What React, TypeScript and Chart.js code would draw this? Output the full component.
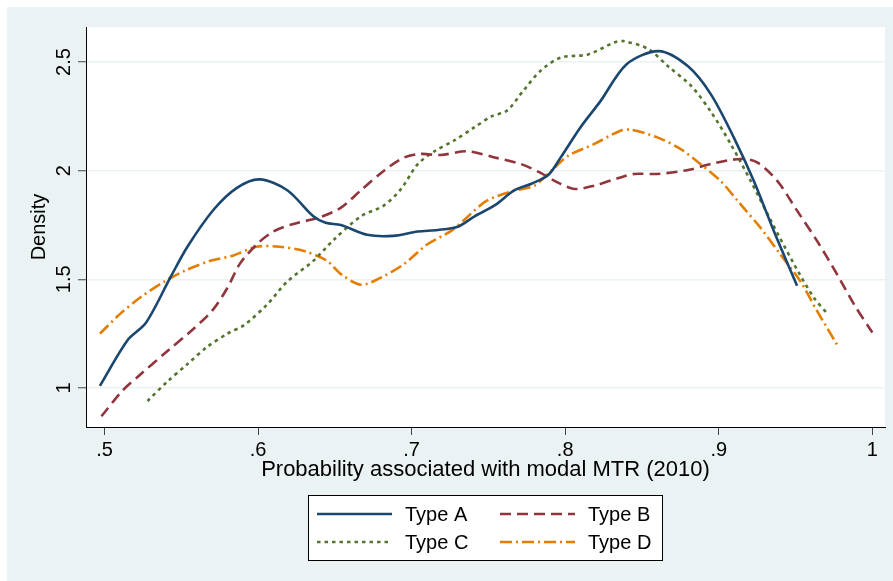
import React, { useEffect, useRef } from 'react';
import { Chart, registerables } from 'chart.js';

Chart.register(...registerables);

// ---- Data ----
const typeAX = [0.497, 0.515, 0.527, 0.543, 0.554, 0.571, 0.586, 0.601, 0.619, 0.636, 0.644, 0.654, 0.671, 0.688, 0.704, 0.717, 0.730, 0.741, 0.754, 0.767, 0.778, 0.789, 0.797, 0.810, 0.823, 0.840, 0.861, 0.880, 0.895, 0.910, 0.923, 0.936, 0.951];
const typeAY = [1.01, 1.22, 1.30, 1.51, 1.65, 1.82, 1.92, 1.96, 1.91, 1.79, 1.76, 1.75, 1.705, 1.70, 1.72, 1.727, 1.742, 1.79, 1.84, 1.91, 1.94, 1.98, 2.06, 2.20, 2.32, 2.49, 2.55, 2.48, 2.35, 2.15, 1.95, 1.72, 1.47];

const typeBX = [0.498, 0.512, 0.523, 0.541, 0.556, 0.570, 0.580, 0.588, 0.599, 0.610, 0.623, 0.640, 0.654, 0.667, 0.682, 0.695, 0.706, 0.719, 0.736, 0.754, 0.771, 0.784, 0.795, 0.806, 0.819, 0.836, 0.845, 0.860, 0.880, 0.895, 0.914, 0.925, 0.938, 0.951, 0.964, 0.977, 0.988, 1.000];
const typeBY = [0.87, 0.99, 1.06, 1.17, 1.26, 1.355, 1.46, 1.57, 1.66, 1.72, 1.755, 1.785, 1.83, 1.91, 2.0, 2.06, 2.077, 2.072, 2.089, 2.061, 2.031, 1.99, 1.946, 1.916, 1.931, 1.969, 1.985, 1.985, 2.003, 2.031, 2.054, 2.038, 1.954, 1.816, 1.677, 1.524, 1.386, 1.255];

const typeCX = [0.528, 0.541, 0.554, 0.567, 0.580, 0.591, 0.606, 0.619, 0.636, 0.649, 0.667, 0.682, 0.693, 0.704, 0.715, 0.728, 0.741, 0.752, 0.762, 0.773, 0.784, 0.797, 0.815, 0.832, 0.838, 0.854, 0.867, 0.882, 0.895, 0.908, 0.921, 0.934, 0.949, 0.962, 0.971];
const typeCY = [0.94, 1.03, 1.11, 1.19, 1.25, 1.29, 1.385, 1.49, 1.585, 1.68, 1.79, 1.84, 1.915, 2.03, 2.09, 2.14, 2.20, 2.25, 2.276, 2.37, 2.46, 2.52, 2.535, 2.59, 2.596, 2.56, 2.48, 2.39, 2.27, 2.12, 1.95, 1.77, 1.57, 1.415, 1.34];

const typeDX = [0.497, 0.510, 0.523, 0.539, 0.554, 0.569, 0.584, 0.599, 0.614, 0.630, 0.645, 0.654, 0.667, 0.680, 0.695, 0.710, 0.726, 0.736, 0.749, 0.767, 0.780, 0.791, 0.802, 0.819, 0.836, 0.843, 0.860, 0.875, 0.888, 0.901, 0.914, 0.927, 0.940, 0.953, 0.964, 0.977];
const typeDY = [1.25, 1.34, 1.415, 1.49, 1.545, 1.585, 1.61, 1.65, 1.65, 1.63, 1.585, 1.524, 1.475, 1.508, 1.57, 1.66, 1.724, 1.785, 1.862, 1.908, 1.931, 2.0, 2.069, 2.123, 2.184, 2.188, 2.153, 2.1, 2.031, 1.954, 1.847, 1.739, 1.616, 1.493, 1.355, 1.20];

const seriesNames = ['Type A', 'Type B', 'Type C', 'Type D'];
const xTicks = [0.5, 0.6, 0.7, 0.8, 0.9, 1];
const xTickLabels = ['.5', '.6', '.7', '.8', '.9', '1'];
const yTicks = [1, 1.5, 2, 2.5];
const yTickLabels = ['1', '1.5', '2', '2.5'];
const xTitle = 'Probability associated with modal MTR (2010)';
const yTitle = 'Density';

// ---- Styles ----
const W = 893;
const H = 581;
const FONT = '"Liberation Sans", Arial, Helvetica, sans-serif';
const FS = 20;
const FS_TITLE = 22;
const colors = ['#1a476f', '#90353b', '#55752f', '#e37e00'];
const dashes: number[][] = [[], [11, 6], [3.5, 4], [12, 4, 2, 4]];
const LW = 2.6;

const toPts = (xs: number[], ys: number[]) => xs.map((x, i) => ({ x, y: ys[i] }));

const backgroundPlugin = {
  id: 'stataBackground',
  beforeDraw(chart: any) {
    const { ctx, chartArea } = chart;
    ctx.save();
    ctx.fillStyle = '#ffffff';
    ctx.fillRect(0, 0, W, H);
    ctx.fillStyle = '#eaf2f3';
    ctx.fillRect(7, 7, W - 7, H - 7);
    ctx.fillStyle = '#ffffff';
    ctx.fillRect(chartArea.left, chartArea.top, chartArea.right - chartArea.left, chartArea.bottom - chartArea.top);
    ctx.restore();
  },
};

const textPlugin = {
  id: 'stataText',
  afterDraw(chart: any) {
    const { ctx, chartArea } = chart;
    const yScale = chart.scales.y;
    ctx.save();
    ctx.fillStyle = '#000';
    ctx.font = `${FS}px ${FONT}`;
    // y tick labels (rotated)
    yTicks.forEach((v, i) => {
      const py = yScale.getPixelForValue(v);
      ctx.save();
      ctx.translate(70, py);
      ctx.rotate(-Math.PI / 2);
      ctx.textAlign = 'center';
      ctx.textBaseline = 'alphabetic';
      ctx.fillText(yTickLabels[i], 0, 0);
      ctx.restore();
    });
    // y title
    ctx.save();
    ctx.translate(45, (chartArea.top + chartArea.bottom) / 2);
    ctx.rotate(-Math.PI / 2);
    ctx.textAlign = 'center';
    ctx.textBaseline = 'alphabetic';
    ctx.fillText(yTitle, 0, 0);
    ctx.restore();
    // x title
    ctx.font = `${FS_TITLE}px ${FONT}`;
    ctx.textAlign = 'center';
    ctx.textBaseline = 'alphabetic';
    ctx.fillText(xTitle, (chartArea.left + chartArea.right) / 2, 476);

    // legend
    ctx.font = `${FS}px ${FONT}`;
    const bx = 308, by = 495, bw = 354, bh = 65;
    ctx.fillStyle = '#ffffff';
    ctx.fillRect(bx, by, bw, bh);
    ctx.strokeStyle = '#000';
    ctx.lineWidth = 1;
    ctx.strokeRect(bx + 0.5, by + 0.5, bw, bh);
    const slots = [
      [317, 514],
      [500, 514],
      [317, 542],
      [500, 542],
    ];
    seriesNames.forEach((name, i) => {
      const [lx, ly] = slots[i];
      ctx.save();
      ctx.strokeStyle = colors[i];
      ctx.lineWidth = LW;
      ctx.setLineDash(dashes[i]);
      ctx.beginPath();
      ctx.moveTo(lx, ly);
      ctx.lineTo(lx + 75, ly);
      ctx.stroke();
      ctx.restore();
      ctx.fillStyle = '#000';
      ctx.textAlign = 'left';
      ctx.textBaseline = 'alphabetic';
      ctx.fillText(name, lx + 88, ly + 7);
    });
    ctx.restore();
  },
};

export default function App() {
  const ref = useRef<HTMLCanvasElement>(null);

  useEffect(() => {
    if (!ref.current) return;
    const datasets = [
      toPts(typeAX, typeAY),
      toPts(typeBX, typeBY),
      toPts(typeCX, typeCY),
      toPts(typeDX, typeDY),
    ].map((data, i) => ({
      label: seriesNames[i],
      data,
      borderColor: colors[i],
      backgroundColor: colors[i],
      borderWidth: LW,
      borderDash: dashes[i],
      pointRadius: 0,
      pointHoverRadius: 0,
      tension: 0.3,
      fill: false,
    }));

    const chart = new Chart(ref.current, {
      type: 'line',
      data: { datasets },
      options: {
        responsive: false,
        animation: false,
        devicePixelRatio: 1,
        layout: { padding: { left: 0, top: 27, right: 8, bottom: 0 } },
        plugins: {
          legend: { display: false },
          tooltip: { enabled: false },
        },
        scales: {
          x: {
            type: 'linear',
            min: 0.48795,
            max: 1.00827,
            afterBuildTicks: (scale: any) => {
              scale.ticks = xTicks.map((v) => ({ value: v }));
            },
            afterFit: (scale: any) => {
              scale.height = H - 427;
            },
            border: { display: true, color: '#000', width: 1 },
            grid: {
              drawOnChartArea: false,
              drawTicks: true,
              tickLength: 8,
              tickColor: '#444',
              tickWidth: 1,
            },
            ticks: {
              autoSkip: false,
              maxRotation: 0,
              minRotation: 0,
              padding: 3,
              color: '#000',
              font: { family: FONT, size: FS },
              callback: (v: any) => {
                const i = xTicks.findIndex((t) => Math.abs(t - v) < 1e-9);
                return i >= 0 ? xTickLabels[i] : '';
              },
            },
          },
          y: {
            type: 'linear',
            min: 0.8206,
            max: 2.661,
            afterBuildTicks: (scale: any) => {
              scale.ticks = yTicks.map((v) => ({ value: v }));
            },
            afterFit: (scale: any) => {
              scale.width = 86;
            },
            border: { display: true, color: '#000', width: 1 },
            grid: {
              drawOnChartArea: true,
              color: '#eaf2f3',
              lineWidth: 1.5,
              drawTicks: true,
              tickLength: 8,
              tickColor: '#444',
              tickWidth: 1,
            },
            ticks: {
              display: false,
            },
          },
        },
      },
      plugins: [backgroundPlugin, textPlugin],
    } as any);

    return () => chart.destroy();
  }, []);

  return (
    <div style={{ position: 'absolute', left: 0, top: 0, width: W, height: H }}>
      <canvas ref={ref} width={W} height={H} style={{ width: W, height: H, display: 'block' }} />
    </div>
  );
}
